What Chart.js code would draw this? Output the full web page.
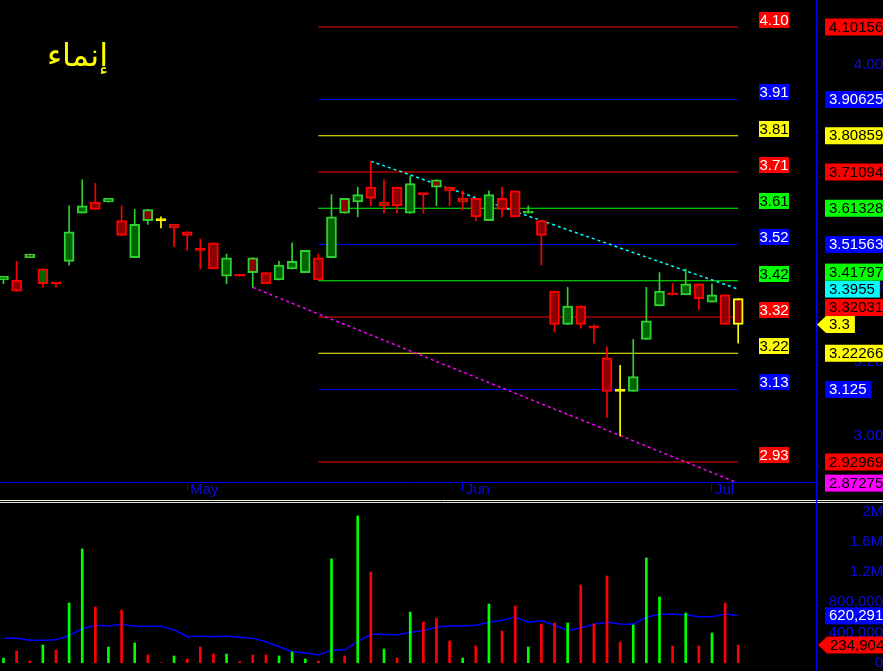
<!DOCTYPE html>
<html>
<head>
<meta charset="utf-8">
<script src="https://cdn.jsdelivr.net/npm/chart.js@4.4.0/dist/chart.umd.min.js"></script>
<style>
html, body { margin: 0; padding: 0; background: #000; overflow: hidden; }
#wrap { position: relative; width: 883px; height: 671px; }
canvas { position: absolute; left: 0; }
#priceChart { top: 0; }
#volumeChart { top: 503px; }
#title { position: absolute; left: 47px; top: 36px; color: #ffff00; font: 32px "DejaVu Sans", sans-serif; direction: rtl; }
</style>
</head>
<body>
<div id="wrap">
  <canvas id="priceChart" width="883" height="503"></canvas>
  <canvas id="volumeChart" width="883" height="168"></canvas>
  <div id="title">إنماء</div>
</div>
<script>
// DATA
const opens  = [3.42, 3.42, 3.49, 3.41, 3.41, 3.47, 3.60, 3.63, 3.63, 3.58, 3.48, 3.61, 3.58, 3.56, 3.55, 3.50, 3.52, 3.43, 3.43, 3.48,
                3.44, 3.42, 3.45, 3.44, 3.48, 3.48, 3.64, 3.63, 3.67, 3.62, 3.67, 3.60, 3.65, 3.69, 3.67, 3.63, 3.64, 3.58, 3.64, 3.66,
                3.60, 3.58, 3.39, 3.30, 3.35, 3.29, 3.21, 3.12, 3.12, 3.26, 3.35, 3.38, 3.38, 3.41, 3.36, 3.38, 3.37];
const highs  = [3.43, 3.47, 3.49, 3.45, 3.41, 3.62, 3.69, 3.68, 3.64, 3.62, 3.61, 3.61, 3.59, 3.57, 3.55, 3.53, 3.52, 3.49, 3.43, 3.48,
                3.44, 3.47, 3.52, 3.50, 3.49, 3.65, 3.64, 3.67, 3.74, 3.69, 3.67, 3.70, 3.65, 3.69, 3.67, 3.66, 3.64, 3.66, 3.67, 3.66,
                3.62, 3.58, 3.39, 3.40, 3.35, 3.30, 3.24, 3.19, 3.26, 3.40, 3.44, 3.41, 3.45, 3.41, 3.41, 3.38, 3.37];
const lows   = [3.41, 3.39, 3.48, 3.40, 3.40, 3.46, 3.60, 3.61, 3.63, 3.54, 3.48, 3.57, 3.56, 3.51, 3.50, 3.45, 3.45, 3.41, 3.43, 3.40,
                3.41, 3.42, 3.45, 3.44, 3.42, 3.48, 3.60, 3.59, 3.62, 3.60, 3.60, 3.60, 3.60, 3.62, 3.62, 3.61, 3.58, 3.58, 3.59, 3.59,
                3.60, 3.46, 3.28, 3.30, 3.29, 3.25, 3.05, 3.00, 3.12, 3.26, 3.35, 3.38, 3.38, 3.34, 3.36, 3.30, 3.25];
const closes = [3.43, 3.39, 3.48, 3.45, 3.41, 3.55, 3.62, 3.61, 3.64, 3.54, 3.57, 3.58, 3.58, 3.57, 3.54, 3.50, 3.45, 3.48, 3.43, 3.44,
                3.41, 3.46, 3.47, 3.50, 3.42, 3.59, 3.60, 3.65, 3.64, 3.63, 3.62, 3.68, 3.65, 3.67, 3.66, 3.64, 3.59, 3.65, 3.61, 3.59,
                3.60, 3.54, 3.30, 3.35, 3.30, 3.29, 3.12, 3.12, 3.16, 3.31, 3.39, 3.38, 3.41, 3.37, 3.38, 3.30, 3.30];
const volumes = [62000, 155000, 22000, 234000, 168000, 791000, 1506000, 738000, 208000, 698000, 261000, 102000, 0, 89000, 49000,
                 208000, 115000, 115000, 13000, 102000, 102000, 89000, 142000, 49000, 22000, 1374000, 89000, 1943000, 1201000, 181000,
                 62000, 671000, 539000, 592000, 287000, 62000, 221000, 777000, 420000, 751000, 208000, 513000, 526000, 526000, 1029000,
                 513000, 1148000, 274000, 499000, 1387000, 870000, 221000, 658000, 221000, 393000, 791000, 234904];
const volumeAvg = [323000, 323000, 297000, 297000, 305000, 360000, 450000, 495000, 486000, 509000, 482000, 482000, 482000, 433000, 344000,
                   353000, 344000, 353000, 336000, 323000, 278000, 212000, 146000, 132000, 102000, 168000, 168000, 278000, 376000, 376000,
                   367000, 403000, 424000, 473000, 486000, 486000, 495000, 535000, 562000, 605000, 535000, 556000, 499000, 424000, 464000,
                   509000, 535000, 513000, 509000, 601000, 641000, 641000, 636000, 609000, 609000, 645000, 620291];
const monthStarts = [14, 35, 54];
const monthNames = ["May", "Jun", "Jul"];
const fibLevels = [4.10156, 3.90625, 3.80859, 3.71094, 3.61328, 3.51563, 3.41797, 3.32031, 3.22266, 3.125, 2.92969];
const fibStart = 24;
const resistanceLine = [{ x: 28, y: 3.74 }, { x: 56, y: 3.3955 }];
const supportLine = [{ x: 19, y: 3.40 }, { x: 56, y: 2.87275 }];
const priceTicks = [3.0, 3.2, 3.4, 3.6, 3.8, 4.0];
const volumeTicks = [0, 400000, 800000, 1200000, 1600000, 2000000];

// STYLES
const RED = "#ff0000", GREEN = "#00ff00", BLUE = "#0000ff", YELLOW = "#ffff00", CYAN = "#00ffff", MAGENTA = "#ff00ff";
const AXIS_TEXT = "#0a0ae6";
const FONT = '"Liberation Sans", Arial, sans-serif';
const fibColors = [RED, BLUE, YELLOW, RED, GREEN, BLUE, GREEN, RED, YELLOW, BLUE, RED];
const lastIndex = closes.length - 1;

// candle colours: fill by open/close, outline by change against previous close
const edgeColors = closes.map((c, i) => {
    if (i === 0) return "#30d030";
    const p = closes[i - 1];
    return c > p ? "#30d030" : c < p ? RED : YELLOW;
});
const fillColors = closes.map((c, i) => {
    if (c > opens[i]) return "#006400";
    if (c < opens[i]) return "#8b0000";
    return edgeColors[i];
});
const volumeColors = closes.map((c, i) => {
    if (c > opens[i]) return GREEN;
    if (c < opens[i]) return RED;
    return i > 0 && c > closes[i - 1] ? GREEN : RED;
});

const X_MIN = -0.267, X_MAX = 61.93;

// no label padding, chart area must fill the canvas
function fitWidth(w) {
    return s => {
        s.width = w;
        s.paddingTop = 0; s.paddingBottom = 0;
    };
}

function textOn(bg) {
    return bg === BLUE ? "#ffffff" : "#000000";
}

// draw a value tag on the right axis (box or arrow)
function drawTag(ctx, top, text, bg, arrow, left) {
    ctx.font = "15px " + FONT;
    const w = ctx.measureText(text).width + 9;
    ctx.fillStyle = bg;
    if (arrow) {
        ctx.beginPath();
        ctx.moveTo(left - 8, top + 8.5);
        ctx.lineTo(left + 1, top);
        ctx.lineTo(left + w, top);
        ctx.lineTo(left + w, top + 17);
        ctx.lineTo(left + 1, top + 17);
        ctx.closePath();
        ctx.fill();
    } else {
        ctx.fillRect(left, top, w, 17);
    }
    ctx.fillStyle = textOn(bg);
    ctx.textAlign = "left";
    ctx.textBaseline = "middle";
    ctx.fillText(text, left + 4, top + 9);
}

// PRICE OVERLAY
const priceOverlay = {
    id: "priceOverlay",
    afterDraw(chart) {
        const { ctx, chartArea, scales: { y } } = chart;
        ctx.save();

        // fib labels inside the chart
        ctx.font = "15px " + FONT;
        ctx.textAlign = "center";
        ctx.textBaseline = "middle";
        fibLevels.forEach((lvl, k) => {
            const py = Math.round(y.getPixelForValue(lvl));
            ctx.fillStyle = fibColors[k];
            ctx.fillRect(759, py - 15, 30, 16);
            ctx.fillStyle = fibColors[k] === RED || fibColors[k] === BLUE ? "#ffffff" : "#000000";
            ctx.fillText(lvl.toFixed(2), 774, py - 6);
        });

        // right axis tags, pushed up when they collide
        const tags = fibLevels.map((v, k) => ({ v, text: String(v), bg: fibColors[k], arrow: false }));
        tags.push({ v: resistanceLine[1].y, text: String(resistanceLine[1].y), bg: CYAN, arrow: false });
        tags.push({ v: supportLine[1].y, text: String(supportLine[1].y), bg: MAGENTA, arrow: false });
        tags.push({ v: closes[lastIndex], text: String(closes[lastIndex]), bg: YELLOW, arrow: true });
        tags.sort((a, b) => a.v - b.v);
        let prevTop = Infinity;
        tags.forEach(t => {
            let top = y.getPixelForValue(t.v) - 8.5;
            if (top + 17 > prevTop) top = prevTop - 17;
            drawTag(ctx, top, t.text, t.bg, t.arrow, 825);
            prevTop = top;
        });

        // separator lines
        ctx.lineWidth = 1;
        ctx.strokeStyle = "#f4f0c8";
        ctx.beginPath(); ctx.moveTo(0, 500.5); ctx.lineTo(883, 500.5); ctx.stroke();
        ctx.strokeStyle = "#e6e6e6";
        ctx.beginPath(); ctx.moveTo(0, 502.5); ctx.lineTo(883, 502.5); ctx.stroke();
        ctx.strokeStyle = BLUE;
        ctx.beginPath(); ctx.moveTo(chartArea.right + 0.5, 0); ctx.lineTo(chartArea.right + 0.5, 503); ctx.stroke();
        ctx.restore();
    }
};

// VOLUME OVERLAY
const volumeOverlay = {
    id: "volumeOverlay",
    afterDraw(chart) {
        const { ctx, chartArea, scales: { y } } = chart;
        ctx.save();
        const avg = volumeAvg[lastIndex];
        const vol = volumes[lastIndex];
        drawTag(ctx, y.getPixelForValue(avg) - 8.5, avg.toLocaleString("en-US"), BLUE, false, 825);
        drawTag(ctx, y.getPixelForValue(vol) - 8.5, vol.toLocaleString("en-US"), RED, true, 826);
        ctx.strokeStyle = BLUE;
        ctx.lineWidth = 1;
        ctx.beginPath(); ctx.moveTo(chartArea.right + 0.5, 0); ctx.lineTo(chartArea.right + 0.5, 168); ctx.stroke();
        ctx.restore();
    }
};

Chart.defaults.font.family = FONT;
Chart.defaults.font.size = 15;

// PRICE CHART
const fibDatasets = fibLevels.map((lvl, k) => ({
    type: "line",
    data: [{ x: fibStart, y: lvl }, { x: lastIndex, y: lvl }],
    borderColor: fibColors[k],
    borderWidth: 1.2,
    pointRadius: 0,
    order: 5
}));

new Chart(document.getElementById("priceChart"), {
    type: "bar",
    data: {
        datasets: [
            ...fibDatasets,
            {
                type: "line", data: resistanceLine, borderColor: CYAN, borderWidth: 1.5,
                borderDash: [3, 3], pointRadius: 0, order: 4
            },
            {
                type: "line", data: supportLine, borderColor: MAGENTA, borderWidth: 1.5,
                borderDash: [3, 3], pointRadius: 0, order: 4
            },
            {
                type: "bar",
                data: lows.map((l, i) => ({ x: i, y: [l, highs[i]] })),
                backgroundColor: edgeColors,
                barThickness: 1,
                minBarLength: 1,
                grouped: false,
                order: 1
            },
            {
                type: "bar",
                data: opens.map((o, i) => ({ x: i, y: [o, closes[i]] })),
                backgroundColor: fillColors,
                borderColor: edgeColors,
                borderWidth: 2,
                borderSkipped: false,
                barThickness: 10,
                minBarLength: 2,
                grouped: false,
                order: 0
            }
        ]
    },
    options: {
        responsive: false,
        animation: false,
        layout: { padding: 0, autoPadding: false },
        plugins: { legend: { display: false }, tooltip: { enabled: false } },
        scales: {
            x: {
                type: "linear",
                min: X_MIN,
                max: X_MAX,
                offset: false,
                afterFit: s => { s.height = 21; s.paddingLeft = 0; s.paddingRight = 0; },
                afterBuildTicks: s => { s.ticks = monthStarts.map(v => ({ value: v })); },
                ticks: {
                    callback: v => monthNames[monthStarts.indexOf(v)],
                    color: AXIS_TEXT,
                    align: "start",
                    labelOffset: 3,
                    padding: -10,
                    maxRotation: 0,
                    autoSkip: false
                },
                grid: { offset: false, drawOnChartArea: false, drawTicks: true, tickLength: 9, color: BLUE, tickWidth: 1 },
                border: { color: BLUE, width: 1 }
            },
            y: {
                position: "right",
                min: 2.8758,
                max: 4.1743,
                afterFit: fitWidth(67),
                afterBuildTicks: s => { s.ticks = priceTicks.map(v => ({ value: v })); },
                ticks: { callback: v => v.toFixed(2), color: AXIS_TEXT, crossAlign: "far", padding: 1 },
                grid: { display: false },
                border: { display: false }
            }
        }
    },
    plugins: [priceOverlay]
});

// VOLUME CHART
new Chart(document.getElementById("volumeChart"), {
    type: "bar",
    data: {
        datasets: [
            {
                type: "bar",
                data: volumes.map((v, i) => ({ x: i, y: v })),
                backgroundColor: volumeColors,
                barThickness: 2,
                order: 0
            },
            {
                type: "line",
                data: volumeAvg.map((v, i) => ({ x: i, y: v })),
                borderColor: BLUE,
                borderWidth: 1.5,
                pointRadius: 0,
                order: 1
            }
        ]
    },
    options: {
        responsive: false,
        animation: false,
        layout: { padding: 0, autoPadding: false },
        plugins: { legend: { display: false }, tooltip: { enabled: false } },
        scales: {
            x: { type: "linear", min: X_MIN, max: X_MAX, offset: false, display: false },
            y: {
                position: "right",
                min: -110000,
                max: 2115000,
                afterFit: fitWidth(67),
                afterBuildTicks: s => { s.ticks = volumeTicks.map(v => ({ value: v })); },
                ticks: {
                    callback: v => v >= 1000000 ? (v / 1000000) + "M" : v.toLocaleString("en-US"),
                    color: AXIS_TEXT,
                    crossAlign: "far",
                    padding: 1
                },
                grid: { display: false },
                border: { display: false }
            }
        }
    },
    plugins: [volumeOverlay]
});
</script>
</body>
</html>
